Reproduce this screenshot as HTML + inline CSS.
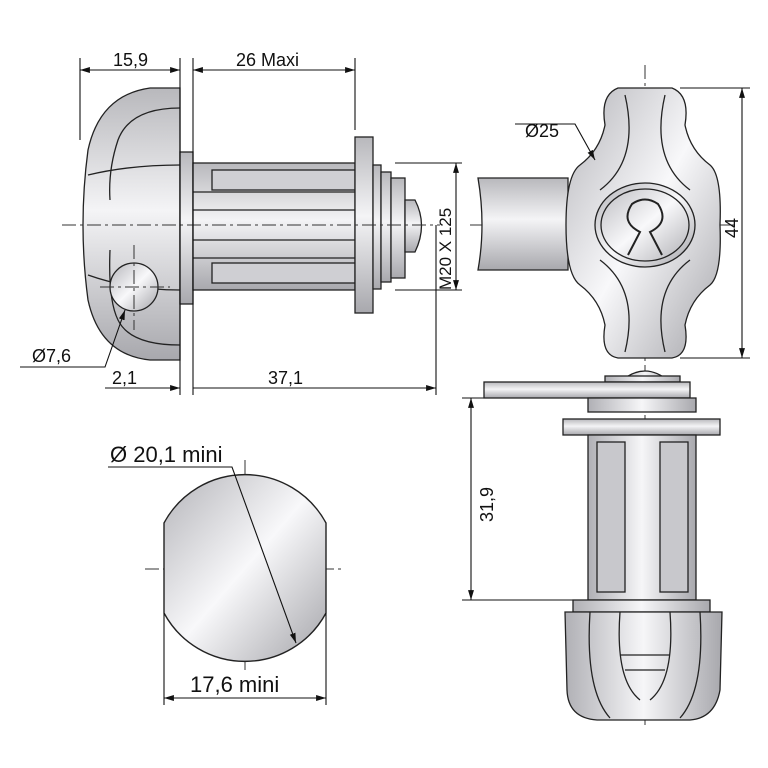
<!DOCTYPE html>
<html><head><meta charset="utf-8"><style>
html,body{margin:0;padding:0;background:#fff;}
svg{display:block;}
text{font-family:"Liberation Sans",sans-serif;fill:#111;}
</style></head><body>
<svg width="768" height="768" viewBox="0 0 768 768" xmlns="http://www.w3.org/2000/svg">
<defs>
<linearGradient id="gv" x1="0" y1="0" x2="0" y2="1">
<stop offset="0" stop-color="#b8b8bc"/><stop offset="0.45" stop-color="#f4f4f6"/><stop offset="1" stop-color="#a8a8ad"/></linearGradient>
<linearGradient id="gh" x1="0" y1="0" x2="1" y2="0">
<stop offset="0" stop-color="#b0b0b5"/><stop offset="0.5" stop-color="#f6f6f8"/><stop offset="1" stop-color="#a8a8ad"/></linearGradient>
<linearGradient id="gd" x1="0" y1="0" x2="1" y2="1">
<stop offset="0" stop-color="#b4b4b9"/><stop offset="0.5" stop-color="#f8f8fa"/><stop offset="1" stop-color="#a4a4a9"/></linearGradient>
<marker id="a" viewBox="0 0 10 10" refX="10" refY="5" markerWidth="9" markerHeight="9" orient="auto-start-reverse"><path d="M0,2 L10,5 L0,8z" fill="#111"/></marker>
</defs>
<g stroke="#222" stroke-width="1.3">
<!-- LEFT VIEW knob -->
<path d="M180,88 L150,88 Q100,95 88,150 Q78,225 88,300 Q100,355 150,360 L180,360 Z" fill="url(#gv)"/>
<path d="M180,108 Q130,108 118,140 Q108,170 110,200 M110,250 Q108,300 118,320 Q130,345 180,345" fill="none"/>
<path d="M88,175 Q130,165 180,165 M88,275 Q130,290 180,290" fill="none"/>
<circle cx="134" cy="287" r="24" fill="url(#gd)"/>
<!-- flange -->
<rect x="180" y="152" width="13" height="152" fill="url(#gv)"/>
<!-- body -->
<rect x="193" y="163" width="162" height="127" fill="url(#gv)"/>
<rect x="212" y="170" width="143" height="20" fill="#cfcfd3"/>
<rect x="212" y="263" width="143" height="20" fill="#cfcfd3"/>
<line x1="193" y1="192" x2="355" y2="192"/><line x1="193" y1="210" x2="355" y2="210"/>
<line x1="193" y1="240" x2="355" y2="240"/><line x1="193" y1="258" x2="355" y2="258"/>
<!-- nut -->
<rect x="355" y="137" width="18" height="176" fill="url(#gv)"/>
<rect x="373" y="165" width="8" height="124" fill="url(#gv)"/>
<rect x="381" y="172" width="10" height="110" fill="url(#gv)"/>
<rect x="391" y="178" width="14" height="100" fill="url(#gv)"/>
<path d="M405,200 L415,200 Q428,225 415,252 L405,252 Z" fill="url(#gv)"/>
</g>
<!-- center lines -->
<g stroke="#333" stroke-width="1" stroke-dasharray="14,4,3,4" fill="none">
<line x1="62" y1="225" x2="440" y2="225"/>
<line x1="100" y1="287" x2="170" y2="287"/><line x1="134" y1="245" x2="134" y2="330"/>
<line x1="470" y1="225" x2="735" y2="225"/>
<line x1="645" y1="65" x2="645" y2="725"/>
<line x1="145" y1="569" x2="342" y2="569"/><line x1="245" y1="460" x2="245" y2="670"/>
</g>
<!-- dims left -->
<g stroke="#111" stroke-width="1.1" fill="none">
<line x1="80" y1="58" x2="80" y2="140"/><line x1="180" y1="58" x2="180" y2="395"/>
<line x1="193" y1="58" x2="193" y2="395"/><line x1="355" y1="58" x2="355" y2="130"/>
<line x1="80" y1="70" x2="180" y2="70" marker-start="url(#a)" marker-end="url(#a)"/>
<line x1="193" y1="70" x2="355" y2="70" marker-start="url(#a)" marker-end="url(#a)"/>
<line x1="105" y1="388" x2="180" y2="388" marker-end="url(#a)"/>
<line x1="193" y1="388" x2="436" y2="388" marker-end="url(#a)"/>
<line x1="436" y1="225" x2="436" y2="395"/>
<line x1="395" y1="163" x2="462" y2="163"/><line x1="395" y1="290" x2="462" y2="290"/>
<line x1="456" y1="163" x2="456" y2="290" marker-start="url(#a)" marker-end="url(#a)"/>
<polyline points="20,367 105,367 125,310" marker-end="url(#a)"/>
</g>
<text x="113" y="66" font-size="18">15,9</text>
<text x="236" y="66" font-size="18">26 Maxi</text>
<text x="112" y="384" font-size="18">2,1</text>
<text x="268" y="384" font-size="18">37,1</text>
<text x="32" y="362" font-size="18">Ø7,6</text>
<text transform="translate(451,290) rotate(-90)" font-size="17">M20 X 125</text>
<!-- RIGHT TOP -->
<g stroke="#222" stroke-width="1.3">
<path d="M478,178 L568,178 L568,270 L478,270 Q486,225 478,178Z" fill="url(#gv)"/>
<path d="M618,88 L672,88 Q690,95 685,125 Q690,150 710,165 Q722,175 720,225 Q722,275 710,285 Q690,300 685,325 Q690,355 672,358 L618,358 Q600,355 605,325 Q600,300 580,285 Q566,275 566,225 Q566,175 580,165 Q600,150 605,125 Q600,95 618,88Z" fill="url(#gd)"/>
<path d="M625,95 Q640,160 600,190 M665,95 Q650,160 690,190 M625,352 Q640,290 600,260 M665,352 Q650,290 690,260" fill="none"/>
<ellipse cx="645" cy="225" rx="50" ry="42" fill="url(#gd)"/>
<ellipse cx="645" cy="225" rx="44" ry="36" fill="none"/>
<path d="M628,255 L640,232 Q620,222 632,204 Q645,195 658,204 Q670,222 650,232 L662,255" fill="none" stroke-width="2"/>
</g>
<g stroke="#111" stroke-width="1.1" fill="none">
<line x1="680" y1="88" x2="750" y2="88"/><line x1="680" y1="358" x2="750" y2="358"/>
<line x1="742" y1="88" x2="742" y2="358" marker-start="url(#a)" marker-end="url(#a)"/>
<polyline points="515,124 575,124 595,160" marker-end="url(#a)"/>
<line x1="462" y1="398" x2="490" y2="398"/><line x1="462" y1="600" x2="580" y2="600"/>
<line x1="471" y1="398" x2="471" y2="600" marker-start="url(#a)" marker-end="url(#a)"/>
</g>
<text x="525" y="137" font-size="18">Ø25</text>
<text transform="translate(738,238) rotate(-90)" font-size="18">44</text>
<text transform="translate(493,522) rotate(-90)" font-size="18">31,9</text>
<!-- RIGHT BOTTOM -->
<g stroke="#222" stroke-width="1.3">
<path d="M620,382 Q645,360 670,382Z" fill="url(#gh)"/>
<rect x="605" y="376" width="75" height="6" fill="url(#gh)"/>
<rect x="484" y="382" width="206" height="16" fill="url(#gv)"/>
<rect x="588" y="398" width="108" height="14" fill="url(#gh)"/>
<rect x="563" y="419" width="157" height="16" fill="url(#gv)"/>
<rect x="588" y="435" width="108" height="165" fill="url(#gh)"/>
<rect x="597" y="442" width="28" height="150" fill="#c8c8cc"/>
<rect x="660" y="442" width="28" height="150" fill="#c8c8cc"/>
<rect x="573" y="600" width="137" height="12" fill="url(#gh)"/>
<path d="M565,612 L722,612 L720,690 Q715,718 690,720 L597,720 Q568,718 567,690Z" fill="url(#gh)"/>
<path d="M590,612 Q585,690 610,718 M700,612 Q705,690 680,718 M620,612 Q615,680 640,700 M670,612 Q675,680 650,700 M620,655 L670,655 M625,670 L665,670" fill="none"/>
</g>
<!-- BOTTOM LEFT -->
<g stroke="#222" stroke-width="1.4">
<path d="M164,523 A92,92 0 0 1 326,523 L326,613 A92,92 0 0 1 164,613 Z" fill="url(#gd)"/>
</g>
<g stroke="#111" stroke-width="1.1" fill="none">
<polyline points="108,467 232,467 296,643" marker-end="url(#a)"/>
<line x1="164" y1="613" x2="164" y2="705"/><line x1="326" y1="613" x2="326" y2="705"/>
<line x1="164" y1="698" x2="326" y2="698" marker-start="url(#a)" marker-end="url(#a)"/>
</g>
<text x="110" y="462" font-size="22">Ø 20,1 mini</text>
<text x="190" y="692" font-size="22">17,6 mini</text>
</svg>
</body></html>
